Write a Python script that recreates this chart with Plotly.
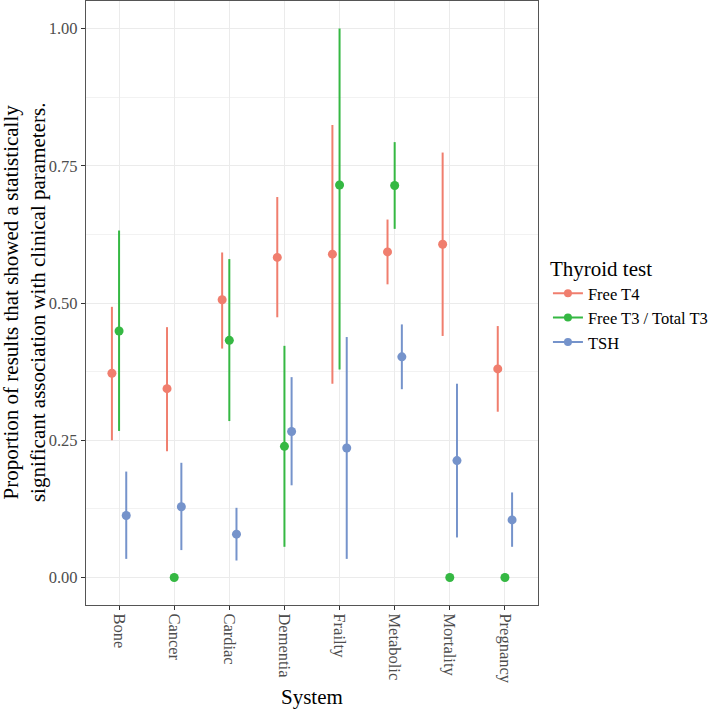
import plotly.graph_objects as go

systems = ["Bone", "Cancer", "Cardiac", "Dementia", "Frailty", "Metabolic", "Mortality", "Pregnancy"]

t4_val = [0.372, 0.344, 0.506, 0.583, 0.589, 0.593, 0.607, 0.380]
t4_lo = [0.250, 0.230, 0.417, 0.474, 0.353, 0.534, 0.440, 0.302]
t4_hi = [0.493, 0.456, 0.592, 0.693, 0.824, 0.652, 0.774, 0.458]

t3_val = [0.449, 0.0, 0.432, 0.239, 0.715, 0.714, 0.0, 0.0]
t3_lo = [0.267, 0.0, 0.285, 0.056, 0.379, 0.635, 0.0, 0.0]
t3_hi = [0.632, 0.0, 0.580, 0.422, 1.000, 0.793, 0.0, 0.0]

tsh_val = [0.113, 0.129, 0.079, 0.266, 0.236, 0.402, 0.213, 0.105]
tsh_lo = [0.034, 0.050, 0.031, 0.168, 0.034, 0.343, 0.073, 0.056]
tsh_hi = [0.193, 0.209, 0.127, 0.365, 0.438, 0.461, 0.353, 0.155]

series = [
    ("Free T4", t4_val, t4_lo, t4_hi, "#F07E6E", -0.13),
    ("Free T3 / Total T3", t3_val, t3_lo, t3_hi, "#35B843", 0.0),
    ("TSH", tsh_val, tsh_lo, tsh_hi, "#7593CB", 0.13),
]

FONT = "Liberation Serif"
fig = go.Figure()

for name, val, lo, hi, col, off in series:
    xs = [i + off for i in range(len(systems))]
    fig.add_trace(go.Scatter(
        x=xs, y=val, mode="markers", name=name, showlegend=False,
        marker=dict(color=col, size=9),
        error_y=dict(type="data", symmetric=False,
                     array=[h - v for h, v in zip(hi, val)],
                     arrayminus=[v - l for v, l in zip(val, lo)],
                     color=col, thickness=2, width=0),
        hoverinfo="skip",
    ))
    fig.add_trace(go.Scatter(
        x=[None], y=[None], mode="lines+markers", name=name,
        line=dict(color=col, width=2), marker=dict(color=col, size=8),
    ))

fig.update_layout(
    width=714, height=711,
    margin=dict(l=86, r=176, t=1, b=106),
    paper_bgcolor="white", plot_bgcolor="white",
    font=dict(family=FONT, color="#4D4D4D", size=16.5),
    showlegend=True,
    legend=dict(
        title=dict(text="Thyroid test", font=dict(size=21, color="black", family=FONT)),
        font=dict(size=16.5, color="black", family=FONT),
        x=1.022, xanchor="left", y=0.59, yanchor="top",
        bgcolor="rgba(0,0,0,0)", tracegroupgap=2, itemwidth=30,
    ),
    xaxis=dict(
        range=[-0.6, 7.6], tickmode="array",
        tickvals=list(range(len(systems))), ticktext=systems,
        tickangle=90, ticks="outside", ticklen=4, tickcolor="#333333",
        showgrid=True, gridcolor="#EBEBEB", gridwidth=1.2,
        zeroline=False, showline=True, linecolor="#555555", linewidth=1.2, mirror=True,
        tickfont=dict(size=16.5, color="#4D4D4D", family=FONT),
    ),
    yaxis=dict(
        range=[-0.05, 1.05], tickmode="array",
        tickvals=[0, 0.25, 0.5, 0.75, 1.0],
        ticktext=["0.00", "0.25", "0.50", "0.75", "1.00"],
        ticks="outside", ticklen=4, tickcolor="#333333",
        showgrid=True, gridcolor="#EBEBEB", gridwidth=1.2,
        minor=dict(showgrid=True, gridcolor="#F2F2F2", gridwidth=1,
                   tickmode="array", tickvals=[0.125, 0.375, 0.625, 0.875]),
        zeroline=False, showline=True, linecolor="#555555", linewidth=1.2, mirror=True,
        tickfont=dict(size=16.5, color="#4D4D4D", family=FONT),
    ),
    annotations=[
        dict(text="System", x=0.5, y=-0.152, xref="paper", yref="paper",
             xanchor="center", yanchor="middle", showarrow=False,
             font=dict(size=21, color="black", family=FONT)),
        dict(text="Proportion of results that showed a statistically<br>significant association with clinical parameters.",
             x=-0.137, y=0.5, xref="paper", yref="paper", textangle=-90,
             xanchor="center", yanchor="middle", showarrow=False,
             font=dict(size=21, color="black", family=FONT)),
    ],
)

fig.write_html("out.html", config={"displayModeBar": False},
               post_script="document.body.style.margin='0';document.body.style.overflow='hidden';")
